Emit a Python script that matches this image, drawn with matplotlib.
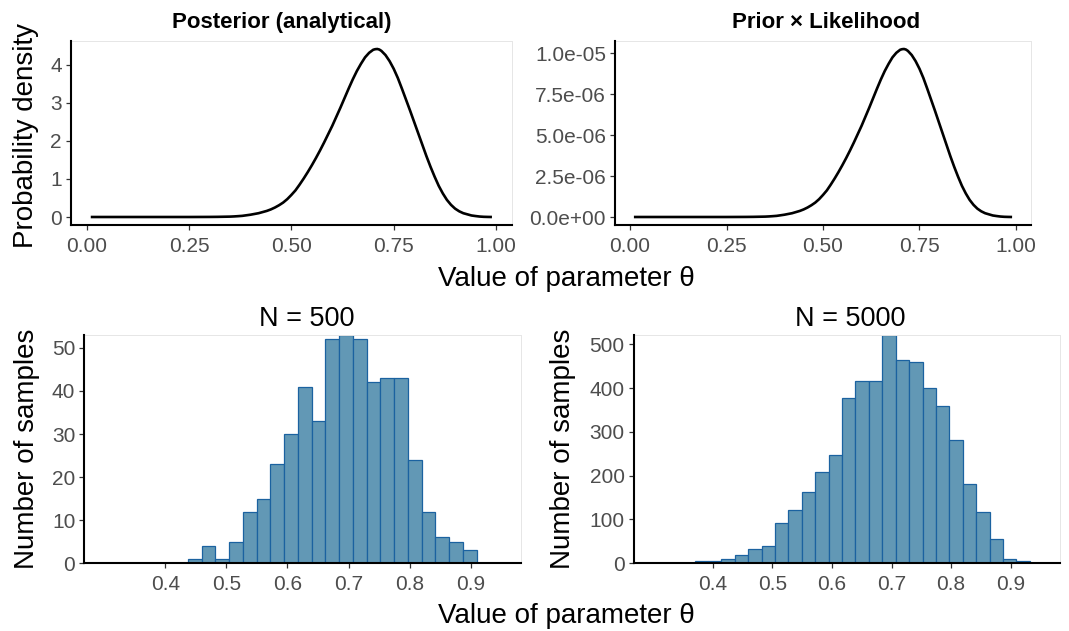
import numpy as np
import matplotlib
matplotlib.use("Agg")
import matplotlib.pyplot as plt
from matplotlib.ticker import FixedLocator, FuncFormatter

plt.rcParams['font.family'] = ['Liberation Sans', 'DejaVu Sans']

# Posterior density of theta (analytical curve)
theta = [0.01, 0.05, 0.10, 0.15, 0.20, 0.25, 0.30, 0.32, 0.34, 0.35, 0.36, 0.37,
         0.38, 0.39, 0.40, 0.41, 0.42, 0.43, 0.44, 0.45, 0.46, 0.47, 0.48, 0.49,
         0.50, 0.51, 0.52, 0.53, 0.54, 0.55, 0.56, 0.57, 0.58, 0.59, 0.60, 0.61,
         0.62, 0.63, 0.64, 0.65, 0.66, 0.67, 0.68, 0.69, 0.70, 0.705, 0.71, 0.715,
         0.72, 0.73, 0.74, 0.75, 0.76, 0.77, 0.78, 0.79, 0.80, 0.81, 0.82, 0.83,
         0.84, 0.85, 0.86, 0.87, 0.88, 0.89, 0.90, 0.91, 0.92, 0.93, 0.94, 0.95,
         0.96, 0.97, 0.98, 0.99]
posterior = [0.0, 0.0, 0.0, 0.0, 0.0, 0.0, 0.002, 0.004, 0.008, 0.010, 0.015, 0.022,
             0.03, 0.045, 0.06, 0.08, 0.10, 0.13, 0.16, 0.20, 0.25, 0.31, 0.38, 0.47,
             0.58, 0.70, 0.85, 1.01, 1.18, 1.36, 1.55, 1.75, 1.96, 2.18, 2.40, 2.64,
             2.88, 3.13, 3.38, 3.62, 3.84, 4.03, 4.20, 4.32, 4.40, 4.415, 4.42, 4.405,
             4.37, 4.26, 4.10, 3.90, 3.66, 3.38, 3.09, 2.80, 2.50, 2.20, 1.90, 1.60,
             1.32, 1.06, 0.82, 0.62, 0.45, 0.32, 0.22, 0.15, 0.10, 0.07, 0.04, 0.025,
             0.012, 0.005, 0.002, 0.0]
# Marginal likelihood: prior x likelihood = posterior x evidence
evidence = 2.32e-6

# Histograms of posterior samples
bin_width = 0.0225
bins_start_500 = 0.437
counts_500 = [1, 4, 1, 5, 12, 15, 23, 30, 41, 33, 52, 53, 52, 42, 43, 43, 24, 12, 6, 5, 3]
bins_start_5000 = 0.3695
counts_5000 = [6, 6, 10, 18, 32, 39, 93, 122, 162, 209, 248, 377, 417, 415, 521,
               465, 460, 401, 360, 281, 180, 117, 55, 10, 6]

top_xticks = [0.0, 0.25, 0.5, 0.75, 1.0]
left_yticks = [0, 1, 2, 3, 4]
right_yticks = [0.0, 2.5e-6, 5.0e-6, 7.5e-6, 1.0e-5]
hist_xticks = [0.4, 0.5, 0.6, 0.7, 0.8, 0.9]
hist_xlim = (0.3, 0.95)

W, H = 1069, 631
fig = plt.figure(figsize=(W / 100, H / 100), dpi=100)


def add_axes(left, right, top, bottom):
    return fig.add_axes([left / W, 1 - bottom / H, (right - left) / W, (bottom - top) / H])


def style(ax):
    for s in ('top', 'right'):
        ax.spines[s].set_color('#E6E6E6')
        ax.spines[s].set_linewidth(0.7)
    for s in ('left', 'bottom'):
        ax.spines[s].set_color('black')
        ax.spines[s].set_linewidth(1.5)
        ax.spines[s].set_zorder(5)
    ax.tick_params(axis='both', which='major', direction='out', length=3.5, width=0.9,
                   color='#333333', labelcolor='#4D4D4D', labelsize=15, pad=3)
    ax.tick_params(axis='x', pad=5)


ax1 = add_axes(70.7, 512, 40.6, 225.4)
ax2 = add_axes(615, 1031, 40.6, 225.4)
ax3 = add_axes(84.4, 521.1, 335, 563.3)
ax4 = add_axes(633.7, 1059.9, 335, 563.3)

th = np.array(theta)
post = np.array(posterior)

# Top panels: curves
for ax, y, ticks, fmt in ((ax1, post, left_yticks, lambda v, p: f"{v:g}"),
                          (ax2, post * evidence, right_yticks,
                           lambda v, p: f"{v:.1e}")):
    ax.plot(th, y, color='black', lw=1.9, solid_capstyle='butt', solid_joinstyle='round')
    rng = th.max() - th.min()
    ax.set_xlim(th.min() - 0.05 * rng, th.max() + 0.05 * rng)
    ax.set_ylim(-0.05 * y.max(), 1.05 * y.max())
    ax.xaxis.set_major_locator(FixedLocator(top_xticks))
    ax.xaxis.set_major_formatter(FuncFormatter(lambda v, p: f"{v:.2f}"))
    ax.yaxis.set_major_locator(FixedLocator(ticks))
    ax.yaxis.set_major_formatter(FuncFormatter(fmt))
    style(ax)

# Bottom panels: histograms
for ax, start, counts, yt in ((ax3, bins_start_500, counts_500, [0, 10, 20, 30, 40, 50]),
                              (ax4, bins_start_5000, counts_5000,
                               [0, 100, 200, 300, 400, 500])):
    c = np.array(counts)
    edges = start + bin_width * np.arange(len(c))
    ax.bar(edges, c, width=bin_width, align='edge', color='#6298B5',
           edgecolor='#1B62A0', linewidth=0.9)
    rng = hist_xlim[1] - hist_xlim[0]
    ax.set_xlim(hist_xlim[0] - 0.05 * rng, hist_xlim[1] + 0.05 * rng)
    ax.set_ylim(0, c.max())
    ax.xaxis.set_major_locator(FixedLocator(hist_xticks))
    ax.xaxis.set_major_formatter(FuncFormatter(lambda v, p: f"{v:.1f}"))
    ax.yaxis.set_major_locator(FixedLocator(yt))
    style(ax)

# Titles and axis labels
fig.text(282 / W, 1 - 28 / H, "Posterior (analytical)", ha='center', va='baseline',
         fontsize=16, fontweight='bold')
fig.text(826 / W, 1 - 28 / H, "Prior \u00d7 Likelihood", ha='center', va='baseline',
         fontsize=16, fontweight='bold')
fig.text(307 / W, 1 - 326 / H, "N = 500", ha='center', va='baseline', fontsize=19.5)
fig.text(850 / W, 1 - 326 / H, "N = 5000", ha='center', va='baseline', fontsize=19.5)

fig.text(566 / W, 1 - 286 / H, "Value of parameter \u03b8", ha='center', va='baseline',
         fontsize=20)
fig.text(566 / W, 1 - 623 / H, "Value of parameter \u03b8", ha='center', va='baseline',
         fontsize=20)
fig.text(26 / W, 1 - 136 / H, "Probability density", rotation=90, ha='center',
         va='center', fontsize=20)
fig.text(27 / W, 1 - 449 / H, "Number of samples", rotation=90, ha='center',
         va='center', fontsize=20)
fig.text(563 / W, 1 - 449 / H, "Number of samples", rotation=90, ha='center',
         va='center', fontsize=20)

fig.savefig("out.png", dpi=100)
